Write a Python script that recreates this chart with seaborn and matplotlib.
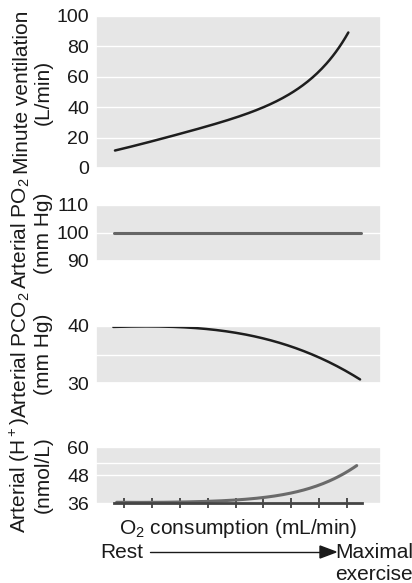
import numpy as np
import pandas as pd
import seaborn as sns
import matplotlib.pyplot as plt

# ---- data (x = relative O2 consumption, tick units) ----
vent_x = [0.68, 1.94, 3.13, 4.33, 5.52, 6.71, 7.67, 8.39, 9.04]
vent_y = [11.5, 17.4, 22.8, 29.3, 36.9, 46.7, 57.6, 70.6, 90.2]

po2_x = [0.65, 9.5]
po2_y = [100, 100]

pco2_x = [0.62, 2.29, 3.73, 4.92, 6.12, 7.31, 8.51, 9.46]
pco2_y = [39.8, 40.0, 39.6, 38.8, 37.6, 35.8, 33.5, 30.5]

hplus_x = [0.74, 3.4, 4.88, 6.0, 6.95, 7.91, 8.63, 9.34]
hplus_y = [36.3, 36.5, 37.2, 38.3, 40.4, 43.2, 46.7, 52.3]

x_ticks = [1, 2, 3, 4, 5, 6, 7, 8, 9]
x_axis_span = (0.65, 9.53)

panels = [
    ("Minute ventilation\n(L/min)", (0, 100), [0, 20, 40, 60, 80, 100], []),
    ("Arterial PO$_2$\n(mm Hg)", (90, 110), [90, 100, 110], []),
    ("Arterial PCO$_2$\n(mm Hg)", (30, 40), [30, 40], [35]),
    ("Arterial (H$^+$)\n(nmol/L)", (36, 60), [36, 48, 60], [53]),
]
# colour, width, offset for the log fit (None = plain poly fit)
series = [(vent_x, vent_y, "#1e1e1e", 1.8, 0.0),
          (po2_x, po2_y, "#666666", 2.2, None),
          (pco2_x, pco2_y, "#1e1e1e", 1.8, None),
          (hplus_x, hplus_y, "#6a6a6a", 2.2, 35.5)]


def smooth(xs, ys, off):
    # low order fit through the read points so the curve comes out smooth
    xs, ys = np.asarray(xs, float), np.asarray(ys, float)
    xx = np.linspace(xs.min(), xs.max(), 150)
    if len(xs) <= 2:
        return pd.DataFrame({"x": xs, "y": ys})
    if off is None:
        yy = np.polyval(np.polyfit(xs, ys, 3), xx)
    else:
        yy = np.exp(np.polyval(np.polyfit(xs, np.log(ys - off), 3), xx)) + off
    return pd.DataFrame({"x": xx, "y": yy})


sns.set_theme(style="darkgrid", rc={"axes.facecolor": "#e6e6e6",
                                    "grid.color": "white",
                                    "grid.linewidth": 1.0})
plt.rcParams["font.family"] = ["Liberation Sans", "DejaVu Sans"]
plt.rcParams["mathtext.fontset"] = "custom"
plt.rcParams["mathtext.rm"] = "Liberation Sans"
plt.rcParams["mathtext.it"] = "Liberation Sans"

fig = plt.figure(figsize=(4.12, 5.83), dpi=100)
L, W = 96 / 412, 285 / 412
boxes = [(16, 168), (205, 261), (326, 383), (447, 503)]
TXT = "#1a1a1a"

for i, ((label, ylim, yt, minor), (xs, ys, col, lw, off), (top, bot)) in enumerate(zip(panels, series, boxes)):
    ax = fig.add_axes([L, 1 - bot / 583, W, (bot - top) / 583])
    sns.lineplot(data=smooth(xs, ys, off), x="x", y="y", ax=ax, color=col, lw=lw)
    ax.set_xlim(0, 10.21)
    ax.set_ylim(*ylim)
    ax.set_yticks(yt)
    if minor:
        ax.set_yticks(minor, minor=True)
        ax.grid(which="minor", axis="y", color="white", lw=1.0)
    ax.tick_params(axis="y", length=0, pad=5, labelsize=14, colors=TXT)
    ax.set_xlabel("")
    ax.set_ylabel(label, fontsize=15, color=TXT, linespacing=1.15)
    ax.yaxis.set_label_coords(-0.15, 0.5)
    ax.grid(axis="x", visible=False)
    if i < 3:
        ax.set_xticks([])
    else:
        ax.set_xticks(x_ticks)
        ax.set_xticklabels([])
        ax.spines["bottom"].set_visible(True)
        ax.spines["bottom"].set_color("#444444")
        ax.spines["bottom"].set_linewidth(2)
        ax.spines["bottom"].set_bounds(*x_axis_span)
        ax.tick_params(axis="x", direction="inout", length=7, width=1.2,
                       colors="#333333", bottom=True)
        ax.set_xlabel("O$_2$ consumption (mL/min)", fontsize=15,
                      color=TXT, labelpad=3)

fig.text(100 / 412, 1 - 552 / 583, "Rest", fontsize=15, va="center",
         ha="left", color=TXT)
fig.text(413 / 412, 1 - 552 / 583, "Maximal", fontsize=15, va="center",
         ha="right", color=TXT)
fig.text(413 / 412, 1 - 575 / 583, "exercise", fontsize=15, va="center",
         ha="right", color=TXT)
fig.add_artist(plt.Line2D([150 / 412, 322 / 412], [1 - 552 / 583] * 2,
                          color=TXT, lw=1.0))
fig.patches.append(plt.Polygon([[320 / 412, 1 - 546 / 583], [336 / 412, 1 - 552 / 583],
                                [320 / 412, 1 - 558 / 583]], closed=True,
                               transform=fig.transFigure, color=TXT))

plt.savefig("out.png", dpi=100)
